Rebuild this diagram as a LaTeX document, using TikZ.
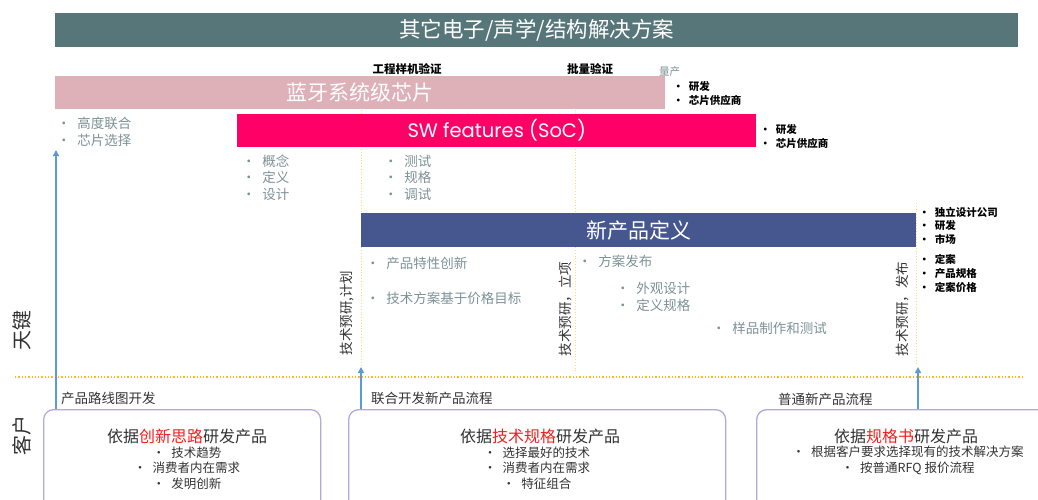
\documentclass[tikz,border=0pt]{standalone}
\usepackage{fontspec}
\setmainfont{Noto Sans CJK SC}
\newfontfamily\swfont{Poppins}
\usetikzlibrary{arrows.meta}

\definecolor{bardark}{RGB}{86,118,122}
\definecolor{barpink}{RGB}{222,176,184}
\definecolor{barred}{RGB}{255,0,102}
\definecolor{barblue}{RGB}{70,86,143}
\definecolor{listgrey}{RGB}{125,145,150}
\definecolor{lineblue}{RGB}{91,155,213}
\definecolor{lineorange}{RGB}{255,192,0}
\definecolor{boxpurple}{RGB}{180,168,218}
\definecolor{hotred}{RGB}{245,30,30}
\definecolor{textdark}{RGB}{50,50,50}

\newcommand{\bul}{•\hspace{0.5em}}

\begin{document}
\begin{tikzpicture}[x=1pt, y=-1pt,
        bar/.style={anchor=north west, inner sep=0pt, text=white, font=\fontsize{21}{24}\selectfont},
        greylist/.style={anchor=base west, align=left, inner sep=0pt, text=listgrey, font=\fontsize{13.5}{16.5}\selectfont},
        blacklist/.style={anchor=base west, align=left, inner sep=0pt, font=\bfseries\fontsize{10.5}{14}\selectfont},
        stage/.style={inner sep=0pt, font=\bfseries\fontsize{11.5}{14}\selectfont},
        phase/.style={rotate=90, inner sep=0pt, text=textdark, font=\fontsize{13.5}{16}\selectfont},
        flow/.style={anchor=west, inner sep=0pt, text=textdark, font=\fontsize{13.5}{16}\selectfont},
        side/.style={rotate=90, inner sep=0pt, text=textdark, font=\fontsize{20}{24}\selectfont},
        custbox/.style={anchor=north west, draw=boxpurple, line width=1.3pt, rounded corners=10pt, minimum height=120pt},
        boxtitle/.style={inner sep=0pt, text=textdark, font=\fontsize{16}{19}\selectfont},
        boxlist/.style={anchor=base, align=center, inner sep=0pt, text=textdark, font=\fontsize{12.5}{15.5}\selectfont},
        guide/.style={dotted, draw=lineorange!55, line width=0.8pt},
        uparrow/.style={draw=lineblue, line width=1.4pt, -{Triangle[length=6pt, width=6pt]}}
    ]
    \useasboundingbox ( 0, 0 ) rectangle ( 1038, 500 );
    \clip ( 0, 0 ) rectangle ( 1038, 500 );

    % 虚线
    \draw [guide] ( 361, 110 ) -- ( 361, 372 );
    \draw [guide] ( 575, 110 ) -- ( 575, 372 );
    \draw [guide] ( 916, 203 ) -- ( 916, 365 );
    \draw [dotted, draw=lineorange, line width=1.3pt] ( 15, 377 ) -- ( 1023, 377 );

    % 横条
    \node [bar, fill=bardark, minimum width=963pt, minimum height=34pt, font=\fontsize{21.5}{25}\selectfont] (solutions) at ( 55, 13 ) {其它电子/声学/结构解决方案};
    \node [bar, fill=barpink, minimum width=610pt, minimum height=33pt] (bluetooth) at ( 55, 76 ) {蓝牙系统级芯片};
    \node [bar, fill=barred, minimum width=519pt, minimum height=33pt, font=\swfont\fontsize{19.5}{22}\selectfont] (swfeat) at ( 237, 114 ) {SW features (SoC)};
    \node [bar, fill=barblue, minimum width=555pt, minimum height=34pt] (newdef) at ( 361, 213 ) {新产品定义};

    % 阶段
    \node [stage] (proto) at ( 407, 69 ) {工程样机验证};
    \node [stage] (batch) at ( 590, 69 ) {批量验证};
    \node [flow, text=listgrey, font=\fontsize{10.5}{12}\selectfont] (mass) at ( 659, 72 ) {量产};

    % 参与方
    \node [blacklist] (party1) at ( 673, 105 ) {\bul 研发\\ \bul 芯片供应商};
    \node [blacklist] (party2) at ( 760, 147 ) {\bul 研发\\ \bul 芯片供应商};
    \node [blacklist, font=\bfseries\fontsize{10.5}{13.5}\selectfont] (party3) at ( 919, 243 ) {\bul 独立设计公司\\ \bul 研发\\ \bul 市场};
    \node [blacklist] (party4) at ( 919, 291 ) {\bul 定案\\ \bul 产品规格\\ \bul 定案价格};

    % 要点
    \node [greylist, font=\fontsize{13.5}{17}\selectfont] (chip) at ( 57, 145 ) {\bul 高度联合\\ \bul 芯片选择};
    \node [greylist] (concept) at ( 242, 199 ) {\bul 概念\\ \bul 定义\\ \bul 设计};
    \node [greylist] (test) at ( 384, 199 ) {\bul 测试\\ \bul 规格\\ \bul 调试};
    \node [greylist] (feature) at ( 366, 268 ) {\bul 产品特性创新};
    \node [greylist] (price) at ( 366, 303 ) {\bul 技术方案基于价格目标};
    \node [greylist] (release) at ( 578, 266 ) {\bul 方案发布};
    \node [greylist, font=\fontsize{13.5}{17}\selectfont] (design) at ( 616, 310 ) {\bul 外观设计\\ \bul 定义规格};
    \node [greylist] (sample) at ( 712, 333 ) {\bul 样品制作和测试};

    % 竖排文字
    \node [phase] (plan1) at ( 347, 313 ) {技术预研,计划};
    \node [phase] (plan2) at ( 566, 309 ) {技术预研，立项};
    \node [phase] (plan3) at ( 903, 309 ) {技术预研，发布};
    \node [side] (tianjian) at ( 22, 330 ) {天键};
    \node [side] (kehu) at ( 22, 435 ) {客户};

    % 客户框
    \node [custbox, minimum width=277pt] (box1) at ( 43, 409 ) {};
    \node [custbox, minimum width=377pt] (box2) at ( 348, 409 ) {};
    \node [custbox, minimum width=300pt] (box3) at ( 756, 409 ) {};

    \node [flow] (road) at ( 61, 398 ) {产品路线图开发};
    \node [flow] (joint) at ( 371, 398 ) {联合开发新产品流程};
    \node [flow] (normal) at ( 778, 399 ) {普通新产品流程};

    \node [boxtitle] (title1) at ( 187, 436 ) {依据\textcolor{hotred}{创新思路}研发产品};
    \node [boxlist] (items1) at ( 187, 488 ) {\bul 技术趋势\\ \bul 消费者内在需求\\ \bul 发明创新};
    \node [boxtitle] (title2) at ( 540, 436 ) {依据\textcolor{hotred}{技术规格}研发产品};
    \node [boxlist] (items2) at ( 537, 488 ) {\bul 选择最好的技术\\ \bul 消费者内在需求\\ \bul 特征组合};
    \node [boxtitle] (title3) at ( 906, 436 ) {依据\textcolor{hotred}{规格书}研发产品};
    \node [boxlist] (items3) at ( 908, 472 ) {\bul 根据客户要求选择现有的技术解决方案\\ \bul 按普通RFQ 报价流程};

    % 箭头
    \coordinate (tip1) at ( 56, 150 );
    \coordinate (tip2) at ( 361, 367 );
    \coordinate (tip3) at ( 918, 367 );
    \draw [uparrow] (box1.north -| tip1) -- (tip1);
    \draw [uparrow] (box2.north -| tip2) -- (tip2);
    \draw [uparrow] (box3.north -| tip3) -- (tip3);
\end{tikzpicture}
\end{document}
